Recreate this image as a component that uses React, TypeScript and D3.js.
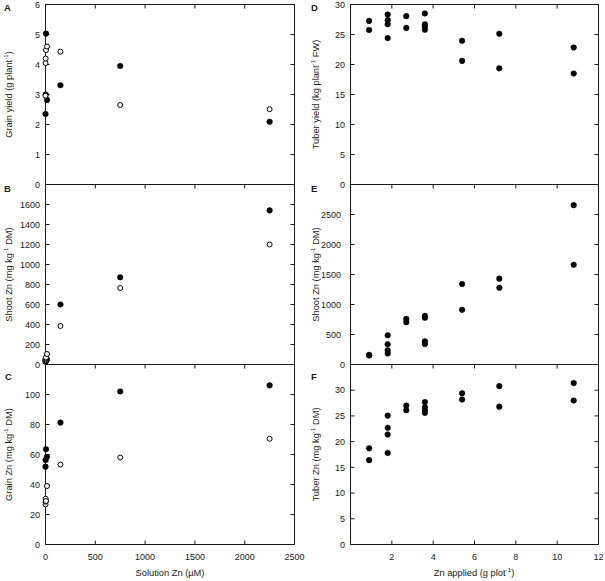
import React from "react";
import * as d3 from "d3";

// ---- Data ----
// Left column: solution culture (x = solution Zn, µM)
const aFilledX = [0.15, 1.5, 5, 15, 150, 750, 2250];
const aFilledY = [2.35, 3.0, 5.03, 2.82, 3.31, 3.95, 2.09];
const aOpenX = [0.15, 0.5, 1.5, 5, 15, 150, 750, 2250];
const aOpenY = [2.96, 4.05, 4.2, 4.48, 4.6, 4.43, 2.65, 2.51];

const bFilledX = [0.15, 1.5, 5, 15, 150, 750, 2250];
const bFilledY = [28, 35, 40, 50, 600, 872, 1541];
const bOpenX = [0.15, 0.5, 1.5, 5, 15, 150, 750, 2250];
const bOpenY = [40, 50, 60, 70, 105, 385, 765, 1200];

const cFilledX = [0.15, 1.5, 5, 15, 150, 750, 2250];
const cFilledY = [51.9, 56.4, 63.5, 58.5, 81.3, 102, 106.1];
const cOpenX = [0.15, 0.5, 1.5, 5, 15, 150, 750, 2250];
const cOpenY = [26.7, 28.5, 30.5, 29, 39, 53.3, 58, 70.5];

// Right column: field (x = Zn applied, g plot-1)
const znApplied = [0.9, 0.9, 1.8, 1.8, 1.8, 1.8, 2.7, 2.7, 3.6, 3.6, 3.6, 3.6, 5.4, 5.4, 7.2, 7.2, 10.8, 10.8];
const dTuberYield = [27.27, 25.76, 28.33, 27.4, 26.7, 24.4, 28.06, 26.1, 28.5, 26.7, 26.3, 25.8, 23.95, 20.6, 25.13, 19.36, 22.84, 18.5];
const eShootZn = [150, 160, 487, 336, 235, 185, 760, 705, 810, 780, 386, 341, 1342, 911, 1431, 1280, 2656, 1661];
const fTuberZn = [18.7, 16.4, 25.06, 22.7, 21.4, 17.8, 27.0, 26.1, 27.7, 26.7, 26.1, 25.6, 29.4, 28.2, 30.8, 26.8, 31.4, 28.0];

// Tick values
const leftXTicks = [0, 500, 1000, 1500, 2000, 2500];
const rightXTicks = [0, 2, 4, 6, 8, 10, 12];
const rightXLabels = [2, 4, 6, 8, 10, 12];
const aYTicks = [0, 1, 2, 3, 4, 5, 6];
const aYLabels = [0, 1, 2, 3, 4, 5, 6];
const bYTicks = [0, 200, 400, 600, 800, 1000, 1200, 1400, 1600, 1800];
const bYLabels = [0, 200, 400, 600, 800, 1000, 1200, 1400, 1600];
const cYTicks = [0, 20, 40, 60, 80, 100, 120];
const cYLabels = [0, 20, 40, 60, 80, 100];
const dYTicks = [0, 5, 10, 15, 20, 25, 30];
const dYLabels = [0, 5, 10, 15, 20, 25, 30];
const eYTicks = [0, 500, 1000, 1500, 2000, 2500, 3000];
const eYLabels = [0, 500, 1000, 1500, 2000, 2500];
const fYTicks = [0, 5, 10, 15, 20, 25, 30, 35];
const fYLabels = [0, 5, 10, 15, 20, 25, 30];

const FONT = "Arial, 'Liberation Sans', Helvetica, sans-serif";
const INK = "#1a1a1a";
const TICK = 4;
const R = 2.8;

type Series = { x: number[]; y: number[]; open: boolean };

type PanelProps = {
  letter: string;
  left: number;
  right: number;
  top: number;
  bottom: number;
  xDomain: [number, number];
  yDomain: [number, number];
  xTicks: number[];
  yTicks: number[];
  yLabels: number[];
  yLabelGap: (v: number) => number;
  bottomAxis: boolean;
  xLabels?: number[];
  series: Series[];
  yTitle: React.ReactNode;
  yTitleX: number;
  letterX: number;
  letterY: number;
};

function Panel(p: PanelProps) {
  const xs = d3.scaleLinear().domain(p.xDomain).range([p.left, p.right]);
  const ys = d3.scaleLinear().domain(p.yDomain).range([p.bottom, p.top]);
  const innerX = p.xTicks.filter((t) => t > p.xDomain[0] && t < p.xDomain[1]);
  const innerY = p.yTicks.filter((t) => t > p.yDomain[0] && t < p.yDomain[1]);
  const cy = (p.top + p.bottom) / 2;
  return (
    <g>
      <rect x={p.left} y={p.top} width={p.right - p.left} height={p.bottom - p.top} fill="none" stroke={INK} strokeWidth={1} />
      {innerX.map((t) => (
        <line key={"tx" + t} x1={xs(t)} x2={xs(t)} y1={p.top} y2={p.top + TICK} stroke={INK} />
      ))}
      {p.bottomAxis &&
        innerX.map((t) => (
          <line key={"bx" + t} x1={xs(t)} x2={xs(t)} y1={p.bottom} y2={p.bottom - TICK} stroke={INK} />
        ))}
      {innerY.map((t) => (
        <g key={"ty" + t}>
          <line x1={p.left} x2={p.left + TICK} y1={ys(t)} y2={ys(t)} stroke={INK} />
          <line x1={p.right} x2={p.right - TICK} y1={ys(t)} y2={ys(t)} stroke={INK} />
        </g>
      ))}
      {p.yLabels.map((t) => (
        <text key={"yl" + t} x={p.left - p.yLabelGap(t)} y={ys(t)} dy="0.35em" textAnchor="end" fontSize={9} fill={INK} fontFamily={FONT}>
          {t}
        </text>
      ))}
      {p.bottomAxis &&
        (p.xLabels || []).map((t) => (
          <text key={"xl" + t} x={xs(t)} y={p.bottom + 15} textAnchor="middle" fontSize={9} fill={INK} fontFamily={FONT}>
            {t}
          </text>
        ))}
      {p.series.map((s, si) =>
        s.x.map((xv, i) => (
          <circle
            key={"pt" + si + "_" + i}
            cx={xs(xv)}
            cy={ys(s.y[i])}
            r={s.open ? R - 0.3 : R}
            fill={s.open ? "#fff" : "#000"}
            stroke="#000"
            strokeWidth={s.open ? 1 : 0.5}
          />
        ))
      )}
      <text
        transform={`translate(${p.yTitleX},${cy}) rotate(-90)`}
        textAnchor="middle"
        fontSize={9.3}
        fill={INK}
        fontFamily={FONT}
      >
        {p.yTitle}
      </text>
      <text x={p.letterX} y={p.letterY} fontSize={9.5} fontWeight="bold" fill={INK} fontFamily={FONT}>
        {p.letter}
      </text>
    </g>
  );
}

function Sup({ s, rest }: { s: string; rest: string }) {
  return (
    <>
      <tspan fontSize={6.2} dy={-3.6}>
        {s}
      </tspan>
      <tspan dy={3.6}>{rest}</tspan>
    </>
  );
}

export default function App() {
  const rows = [
    { top: 4.5, bottom: 184.5 },
    { top: 184.5, bottom: 364.5 },
    { top: 364.5, bottom: 544.5 },
  ];
  const L = { left: 45.5, right: 294.5 };
  const Rt = { left: 350.5, right: 598.5 };
  const letterY = [10.5, 191.5, 380];
  const gap5 = () => 5.5;
  return (
    <div style={{ position: "absolute", left: 0, top: 0 }}>
      <svg width={605} height={581} viewBox="0 0 605 581" style={{ display: "block", background: "#fff" }}>
        <rect x={0} y={0} width={605} height={581} fill="#fff" />
        <Panel
          letter="A"
          {...L}
          {...rows[0]}
          xDomain={[0, 2500]}
          yDomain={[0, 6]}
          xTicks={leftXTicks}
          yTicks={aYTicks}
          yLabels={aYLabels}
          yLabelGap={gap5}
          bottomAxis={false}
          series={[
            { x: aFilledX, y: aFilledY, open: false },
            { x: aOpenX, y: aOpenY, open: true },
          ]}
          yTitle={<>Grain yield (g plant<Sup s="-1" rest=")" /></>}
          yTitleX={12}
          letterX={4}
          letterY={letterY[0]}
        />
        <Panel
          letter="B"
          {...L}
          {...rows[1]}
          xDomain={[0, 2500]}
          yDomain={[0, 1800]}
          xTicks={leftXTicks}
          yTicks={bYTicks}
          yLabels={bYLabels}
          yLabelGap={gap5}
          bottomAxis={false}
          series={[
            { x: bFilledX, y: bFilledY, open: false },
            { x: bOpenX, y: bOpenY, open: true },
          ]}
          yTitle={<>Shoot Zn (mg kg<Sup s="-1" rest=" DM)" /></>}
          yTitleX={12}
          letterX={4}
          letterY={letterY[1]}
        />
        <Panel
          letter="C"
          {...L}
          {...rows[2]}
          xDomain={[0, 2500]}
          yDomain={[0, 120]}
          xTicks={leftXTicks}
          yTicks={cYTicks}
          yLabels={cYLabels}
          yLabelGap={gap5}
          bottomAxis={true}
          xLabels={leftXTicks}
          series={[
            { x: cFilledX, y: cFilledY, open: false },
            { x: cOpenX, y: cOpenY, open: true },
          ]}
          yTitle={<>Grain Zn (mg kg<Sup s="-1" rest=" DM)" /></>}
          yTitleX={12}
          letterX={5}
          letterY={letterY[2]}
        />
        <Panel
          letter="D"
          {...Rt}
          {...rows[0]}
          xDomain={[0, 12]}
          yDomain={[0, 30]}
          xTicks={rightXTicks}
          yTicks={dYTicks}
          yLabels={dYLabels}
          yLabelGap={gap5}
          bottomAxis={false}
          series={[{ x: znApplied, y: dTuberYield, open: false }]}
          yTitle={<>Tuber yield (kg plant<Sup s="-1" rest=" FW)" /></>}
          yTitleX={319}
          letterX={311}
          letterY={letterY[0]}
        />
        <Panel
          letter="E"
          {...Rt}
          {...rows[1]}
          xDomain={[0, 12]}
          yDomain={[0, 3000]}
          xTicks={rightXTicks}
          yTicks={eYTicks}
          yLabels={eYLabels}
          yLabelGap={(v) => (v === 0 ? 5.5 : 9.5)}
          bottomAxis={false}
          series={[{ x: znApplied, y: eShootZn, open: false }]}
          yTitle={<>Shoot Zn (mg kg<Sup s="-1" rest=" DM)" /></>}
          yTitleX={319}
          letterX={311}
          letterY={letterY[1]}
        />
        <Panel
          letter="F"
          {...Rt}
          {...rows[2]}
          xDomain={[0, 12]}
          yDomain={[0, 35]}
          xTicks={rightXTicks}
          yTicks={fYTicks}
          yLabels={fYLabels}
          yLabelGap={gap5}
          bottomAxis={true}
          xLabels={rightXLabels}
          series={[{ x: znApplied, y: fTuberZn, open: false }]}
          yTitle={<>Tuber Zn (mg kg<Sup s="-1" rest=" DM)" /></>}
          yTitleX={319}
          letterX={311}
          letterY={letterY[2]}
        />
        <text x={170} y={576} textAnchor="middle" fontSize={9.3} fill={INK} fontFamily={FONT}>
          Solution Zn (µM)
        </text>
        <text x={474} y={576} textAnchor="middle" fontSize={9.3} fill={INK} fontFamily={FONT}>
          Zn applied (g plot<Sup s="-1" rest=")" />
        </text>
      </svg>
    </div>
  );
}
